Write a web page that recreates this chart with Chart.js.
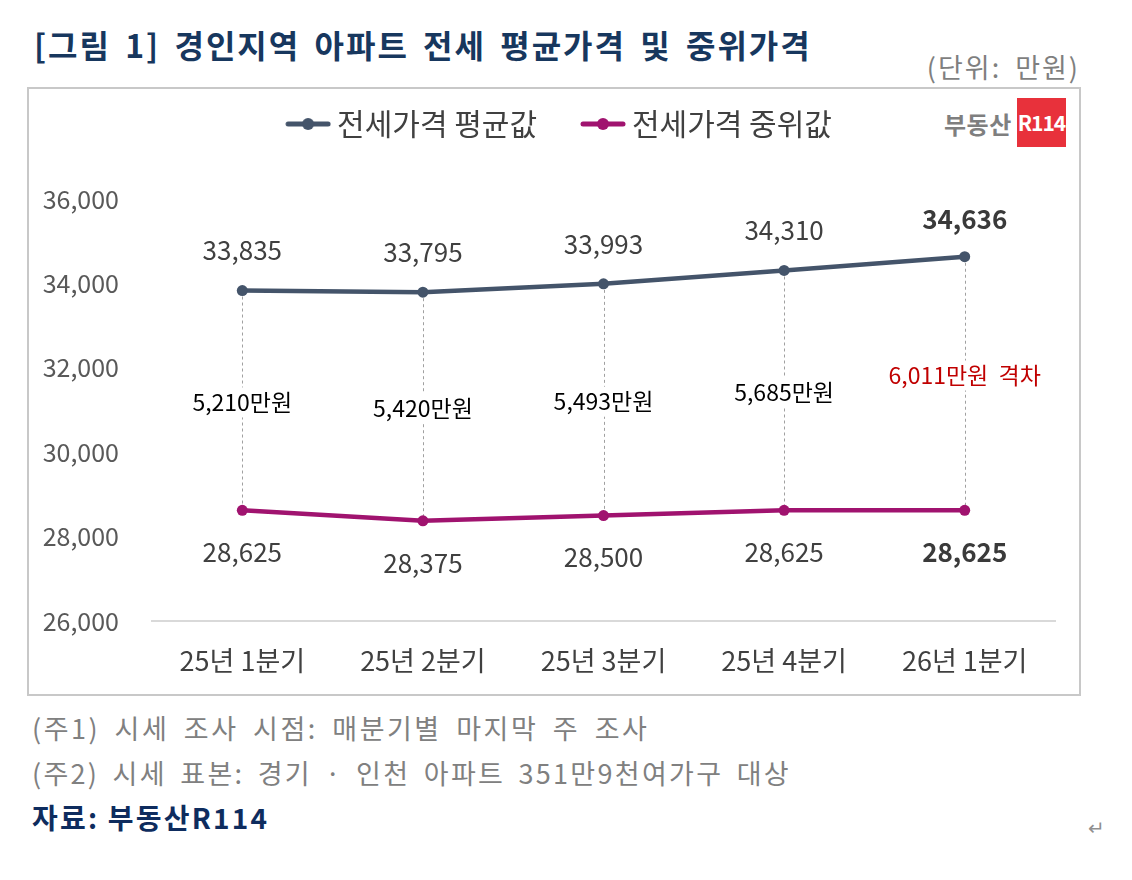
<!DOCTYPE html>
<html><head><meta charset="utf-8">
<script src="https://cdn.jsdelivr.net/npm/chart.js@4.4.1/dist/chart.umd.min.js"></script>
<style>
html,body{margin:0;padding:0;background:#fff;width:1132px;height:880px;overflow:hidden;font-family:"Noto Sans CJK KR","Noto Sans",sans-serif;}
.abs{position:absolute;white-space:nowrap;}
#title{left:34px;top:21px;font-size:32px;font-weight:bold;color:#17375e;letter-spacing:2px;word-spacing:5px;}
#unit{right:52px;top:47px;font-size:27px;color:#7f7f7f;letter-spacing:2px;word-spacing:6px;}
#box{left:27px;top:87px;width:1050px;height:605px;border:2px solid #c8c8c8;}
#logoText{left:944px;top:106px;font-size:24px;font-weight:bold;color:#7f7f7f;letter-spacing:0.5px;}
#logoBox{left:1017px;top:98px;width:49px;height:49px;background:#e8313b;color:#fff;font-weight:bold;font-size:21px;text-align:center;line-height:49px;letter-spacing:-1px;}
.note{left:32px;font-size:27px;color:#808080;letter-spacing:2.5px;word-spacing:6px;}
#n2{letter-spacing:2.3px;word-spacing:5px;}
#src{left:32px;top:797px;font-size:28px;font-weight:bold;color:#0e2c5e;letter-spacing:2.2px;}
#ret{left:1088px;top:812px;font-size:20px;color:#909090;}
#c{position:absolute;left:0;top:0;}
</style></head>
<body>
<div class="abs" id="title">[그림 1] 경인지역 아파트 전세 평균가격 및 중위가격</div>
<div class="abs" id="unit">(단위: 만원)</div>
<div class="abs" id="box"></div>
<div class="abs" id="logoText">부동산</div>
<div class="abs" id="logoBox">R114</div>
<div class="abs note" style="top:708px">(주1) 시세 조사 시점: 매분기별 마지막 주 조사</div>
<div class="abs note" id="n2" style="top:753px">(주2) 시세 표본: 경기 · 인천 아파트 351만9천여가구 대상</div>
<div class="abs" id="src">자료: 부동산R114</div>
<div class="abs" id="ret">↵</div>
<canvas id="c" width="1132" height="880"></canvas>
<script>
const categories = ["25년 1분기", "25년 2분기", "25년 3분기", "25년 4분기", "26년 1분기"];
const meanValues = [33835, 33795, 33993, 34310, 34636];
const medianValues = [28625, 28375, 28500, 28625, 28625];
const seriesNames = ["전세가격 평균값", "전세가격 중위값"];
const yTicks = [26000, 28000, 30000, 32000, 34000, 36000];

const MEAN_COLOR = "#44546a";
const MED_COLOR = "#a0136f";
const FONT = '"Noto Sans CJK KR","Noto Sans",sans-serif';

function legendMarker(color){
  const cv = document.createElement('canvas');
  cv.width = 77; cv.height = 14;
  const g = cv.getContext('2d');
  g.strokeStyle = color; g.lineWidth = 5; g.lineCap = 'round';
  g.beginPath(); g.moveTo(34,7); g.lineTo(74,7); g.stroke();
  g.fillStyle = color; g.beginPath(); g.arc(54,7,6,0,Math.PI*2); g.fill();
  return cv;
}
const markers = [legendMarker(MEAN_COLOR), legendMarker(MED_COLOR)];

const fmt = v => v.toLocaleString('en-US');

const annot = {
  id: 'annot',
  beforeDatasetsDraw(chart){
    const ctx = chart.ctx;
    const m0 = chart.getDatasetMeta(0).data, m1 = chart.getDatasetMeta(1).data;
    ctx.save();
    ctx.strokeStyle = '#a0a0a0'; ctx.lineWidth = 1; ctx.setLineDash([3,3]);
    m0.forEach((p,i)=>{
      const q = m1[i];
      ctx.beginPath(); ctx.moveTo(Math.round(p.x)+0.5, p.y); ctx.lineTo(Math.round(p.x)+0.5, q.y); ctx.stroke();
    });
    ctx.setLineDash([]);
    ctx.textAlign = 'center'; ctx.textBaseline = 'middle';
    m0.forEach((p,i)=>{
      const q = m1[i];
      const gap = meanValues[i] - medianValues[i];
      const last = i === m0.length-1;
      const txt = last ? fmt(gap) + '만원  격차' : fmt(gap) + '만원';
      ctx.font = '23px ' + FONT;
      const y = (p.y + q.y)/2 + (last ? -8 : 2);
      const w = ctx.measureText(txt).width;
      ctx.fillStyle = '#fff';
      ctx.fillRect(p.x - w/2 - 3, y - 15, w + 6, 30);
      ctx.fillStyle = last ? '#c00000' : '#000';
      ctx.fillText(txt, p.x, y);
    });
    ctx.restore();
  },
  afterDatasetsDraw(chart){
    const ctx = chart.ctx;
    const m0 = chart.getDatasetMeta(0).data, m1 = chart.getDatasetMeta(1).data;
    ctx.save();
    ctx.textAlign = 'center'; ctx.textBaseline = 'middle';
    m0.forEach((p,i)=>{
      const last = i === m0.length-1;
      ctx.font = (last ? 'bold ' : '') + '26px ' + FONT;
      ctx.fillStyle = last ? '#3a3a3a' : '#404040';
      ctx.fillText(fmt(meanValues[i]), p.x, p.y - (last ? 38 : 40));
    });
    m1.forEach((p,i)=>{
      const last = i === m1.length-1;
      ctx.font = (last ? 'bold ' : '') + '26px ' + FONT;
      ctx.fillStyle = last ? '#3a3a3a' : '#404040';
      ctx.fillText(fmt(medianValues[i]), p.x, p.y + 42);
    });
    ctx.restore();
  }
};

new Chart(document.getElementById('c'), {
  type: 'line',
  data: {
    labels: categories,
    datasets: [
      {label: seriesNames[0], data: meanValues, borderColor: MEAN_COLOR, backgroundColor: MEAN_COLOR,
       borderWidth: 4.5, pointRadius: 5.5, pointBackgroundColor: MEAN_COLOR, pointBorderWidth: 0, tension: 0},
      {label: seriesNames[1], data: medianValues, borderColor: MED_COLOR, backgroundColor: MED_COLOR,
       borderWidth: 4.5, pointRadius: 5.5, pointBackgroundColor: MED_COLOR, pointBorderWidth: 0, tension: 0}
    ]
  },
  options: {
    responsive: false, animation: false,
    layout: {padding: {left: 40, right: 77, top: 88, bottom: 0}},
    plugins: {
      tooltip: {enabled: false},
      title: {display: true, text: '', position: 'top', weight: 500, font: {size: 1}, padding: {top: 0, bottom: 49}},
      legend: {
        position: 'top', weight: 3000,
        labels: {
          usePointStyle: true, pointStyleWidth: 59, padding: 21,
          color: '#404040', font: {family: FONT, size: 30},
          generateLabels(chart){
            return chart.data.datasets.map((d,i)=>({
              text: d.label, pointStyle: markers[i], fillStyle: d.borderColor, strokeStyle: d.borderColor,
              lineWidth: 0, datasetIndex: i, fontColor: '#404040', hidden: false
            }));
          }
        }
      }
    },
    scales: {
      x: {
        offset: true,
        grid: {display: false, drawTicks: false},
        border: {display: true, color: '#d9d9d9', width: 2},
        ticks: {color: '#404040', font: {family: FONT, size: 27}, padding: 24, maxRotation: 0},
        afterFit(s){ s.height = 259; }
      },
      y: {
        min: 26000, max: 36000,
        afterBuildTicks(s){ s.ticks = yTicks.map(v=>({value: v})); },
        grid: {display: false, drawTicks: false},
        border: {display: false},
        ticks: {color: '#595959', font: {family: FONT, size: 25}, padding: 33, callback: v => fmt(v)},
        afterFit(s){ s.width = 112; }
      }
    }
  },
  plugins: [annot]
});
</script>
</body></html>
